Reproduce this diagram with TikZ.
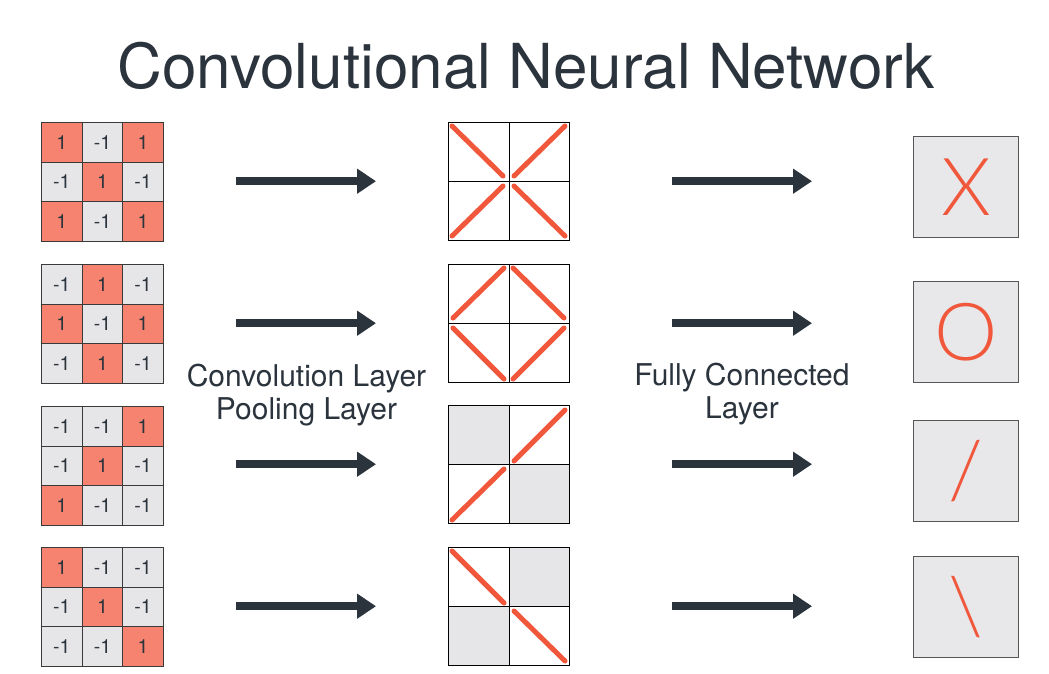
\documentclass[tikz,border=0pt]{standalone}
\usepackage{fontspec}
\setmainfont{TeX Gyre Heros}
\newfontfamily\lightfont{Lato Light}
\usetikzlibrary{arrows.meta,calc}
\definecolor{salmon}{HTML}{F6836F}
\definecolor{cellgray}{HTML}{E6E6E8}
\definecolor{redline}{HTML}{F0573B}
\definecolor{darktext}{HTML}{2B333D}
\definecolor{boxgray}{HTML}{E8E7EA}
\definecolor{cellborder}{HTML}{3A3A3A}
\definecolor{boxborder}{HTML}{555555}
\newcommand\inputgrid[4]{%
  \node[gridframe, anchor=north west] (#1) at (#2,#3) {};
  \foreach \v [count=\i from 0] in {#4} {
    \pgfmathtruncatemacro\r{div(\i,3)}
    \pgfmathtruncatemacro\c{mod(\i,3)}
    \ifnum\v=1 \def\cf{salmon}\else\def\cf{cellgray}\fi
    \node[incell, fill=\cf, anchor=north west] (#1-\r-\c) at ({#2+\c*40.67},{#3+\r*39.67}) {\v};
  }
}
\newcommand\featgrid[5]{%
  \node[featframe, anchor=north west] (#1) at (#2,#3) {};
  \node[featcell, fill=#4, anchor=north west] (#1-tl) at (#2,#3) {};
  \node[featcell, fill=#5, anchor=north west] (#1-tr) at ({#2+60.5},#3) {};
  \node[featcell, fill=#5, anchor=north west] (#1-bl) at (#2,{#3+59}) {};
  \node[featcell, fill=#4, anchor=north west] (#1-br) at ({#2+60.5},{#3+59}) {};
}
\begin{document}
\begin{tikzpicture}[x=1pt,y=-1pt,
  gridframe/.style={minimum width=122pt, minimum height=119pt, inner sep=0pt, draw=none},
  incell/.style={draw=cellborder, line width=0.9pt, minimum width=40.67pt, minimum height=39.67pt,
    inner sep=0pt, text=darktext, font=\fontsize{19.5}{19.5}\selectfont},
  featframe/.style={minimum width=121pt, minimum height=118pt, inner sep=0pt, draw=none},
  featcell/.style={draw=black, line width=0.8pt, minimum width=60.5pt, minimum height=59pt, inner sep=0pt},
  stroke/.style={draw=redline, line width=5pt, line cap=round},
  outbox/.style={fill=boxgray, draw=boxborder, line width=1.2pt, minimum width=105pt,
    minimum height=101pt, inner sep=0pt, text=redline, font=\lightfont\fontsize{80}{80}\selectfont},
  bigarrow/.style={draw=darktext, line width=8.5pt, -{Triangle[length=19pt,width=24pt]}},
  label/.style={align=center, text=darktext, font=\fontsize{30}{33}\selectfont}
]
\useasboundingbox (0,0) rectangle (1049,673);
\fill[white] (0,0) rectangle (1049,673);

\node[anchor=base, text=darktext, font=\fontsize{62}{62}\selectfont] (title) at (526,88) {Convolutional Neural Network};

% input grids
\inputgrid{g1}{41}{122}{1,-1,1,-1,1,-1,1,-1,1}
\inputgrid{g2}{41}{264}{-1,1,-1,1,-1,1,-1,1,-1}
\inputgrid{g3}{41}{406}{-1,-1,1,-1,1,-1,1,-1,-1}
\inputgrid{g4}{41}{547}{1,-1,-1,-1,1,-1,-1,-1,1}

% feature grids
\featgrid{m1}{448}{122}{white}{white}
\featgrid{m2}{448}{264}{white}{white}
\featgrid{m3}{448}{405}{cellgray}{white}
\featgrid{m4}{448}{547}{white}{cellgray}

% red strokes
\draw[stroke] (452,126) -- (503,176);
\draw[stroke] (565,126) -- (514,176);
\draw[stroke] (452,236) -- (503,186);
\draw[stroke] (565,236) -- (514,186);

\draw[stroke] (504,268) -- (453,318);
\draw[stroke] (453,328) -- (504,379);
\draw[stroke] (513,268) -- (564,318);
\draw[stroke] (564,328) -- (513,379);

\draw[stroke] (452,520) -- (504,469);
\draw[stroke] (514,461) -- (565,410);

\draw[stroke] (452,551) -- (504,603);
\draw[stroke] (514,611) -- (565,661);

% output boxes
\node[outbox, anchor=north west] (o1) at (913,136) {X};
\node[outbox, anchor=north west] (o2) at (913,281) {O};
\node[outbox, anchor=north west] (o3) at (913,420) {/};
\node[outbox, anchor=north west] (o4) at (913,556) {\textbackslash};

% arrows
\foreach \k in {1,2,3,4} {
  \draw[bigarrow, shorten <=73pt, shorten >=72pt] (g\k.east |- m\k.east) -- (m\k.west);
  \draw[bigarrow, shorten <=103pt, shorten >=101pt] (m\k.east) -- (m\k.east -| o\k.west);
}

% labels
\node[label] (conv) at (306.5,395) {Convolution Layer\\Pooling Layer};
\node[label] (fc) at (742,394) {Fully Connected\\Layer};
\end{tikzpicture}
\end{document}
